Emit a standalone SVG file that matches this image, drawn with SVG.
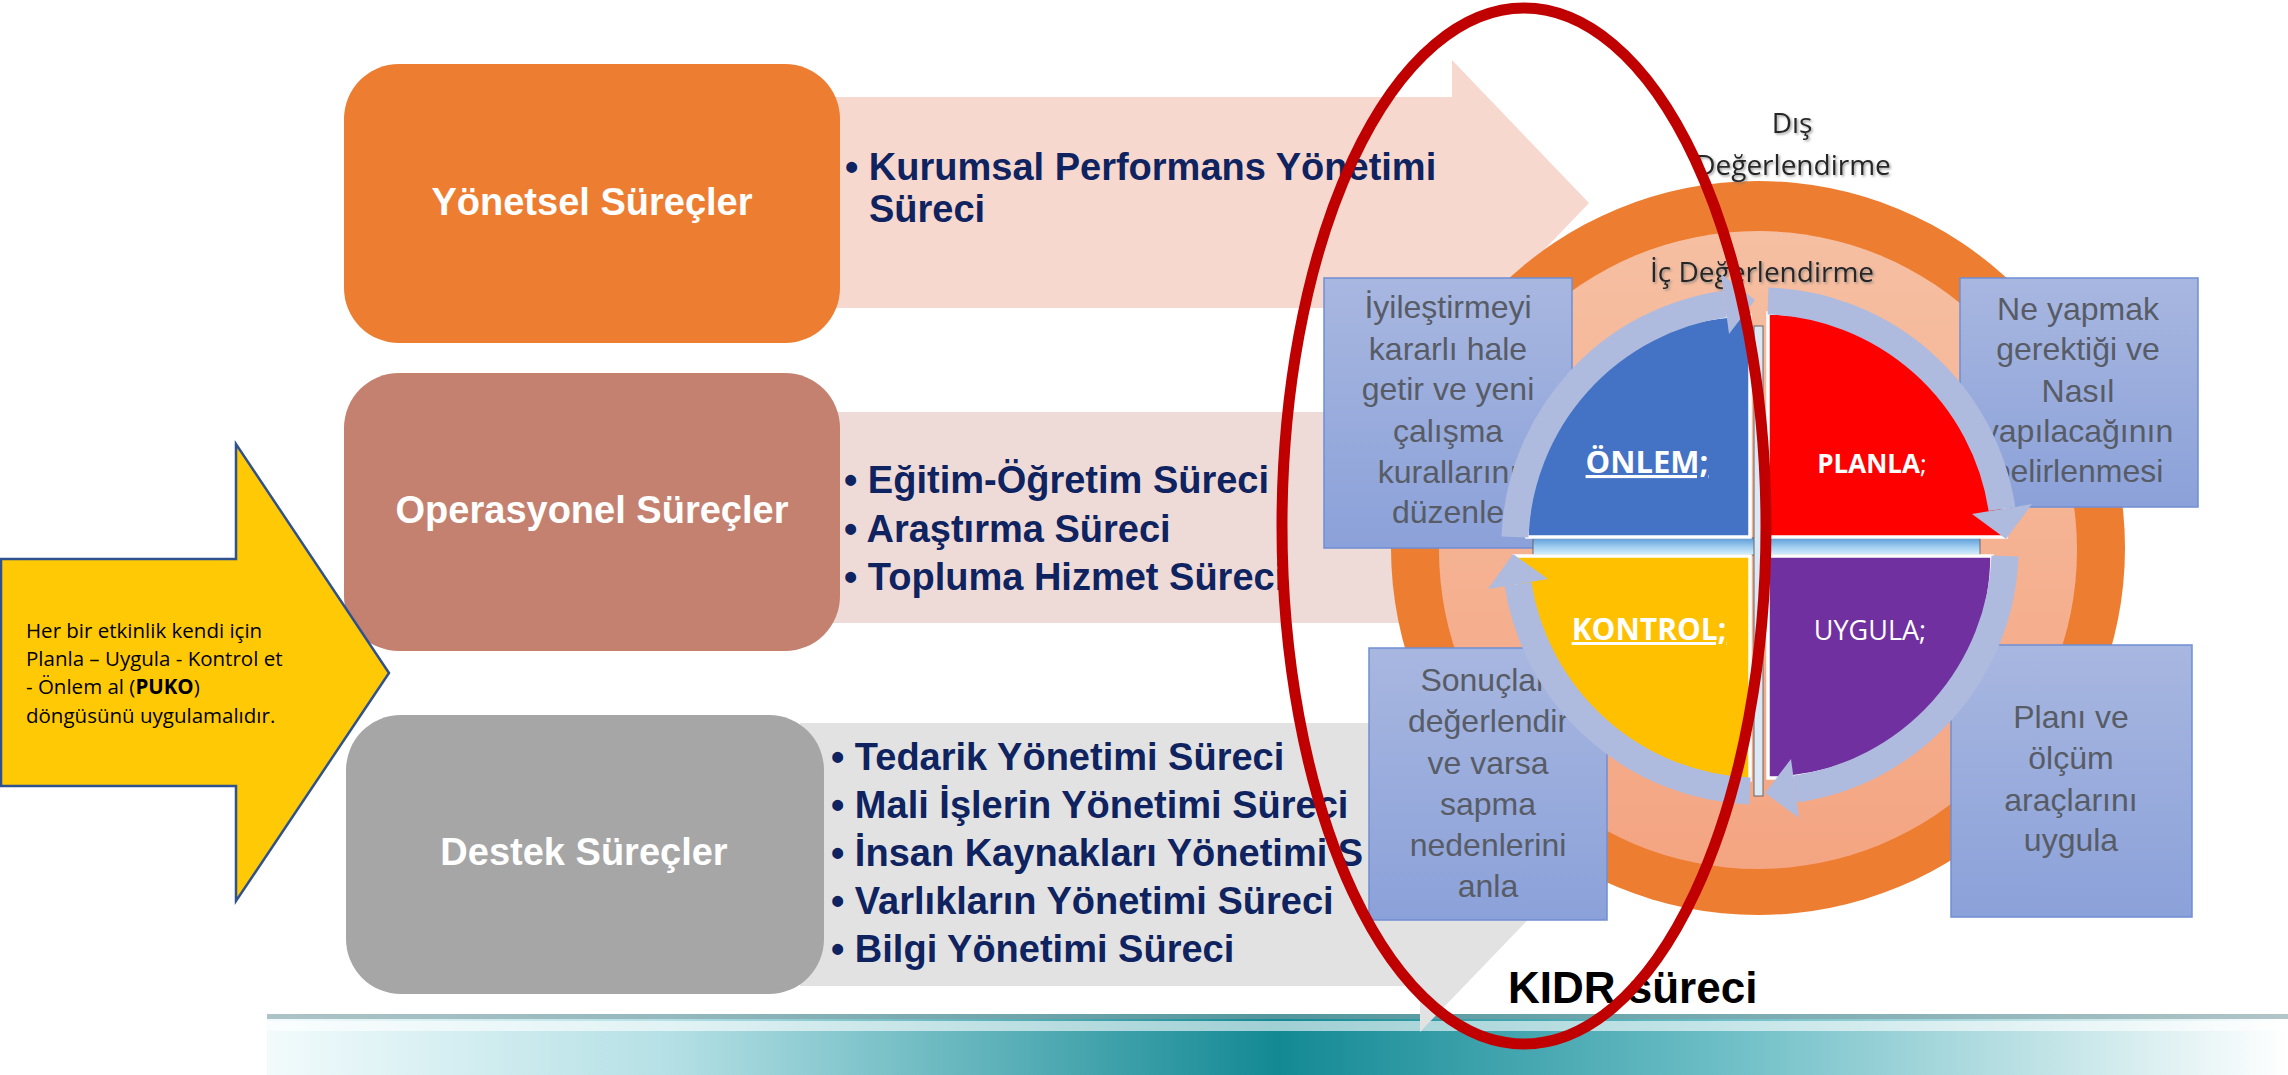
<svg xmlns="http://www.w3.org/2000/svg" width="2288" height="1075" viewBox="0 0 2288 1075">
<defs>
<style>
.pt{font-family:"Liberation Sans",Arial,sans-serif;font-weight:bold;font-size:38px;fill:#0E2360}
.bt{font-family:"Liberation Sans",Arial,sans-serif;font-weight:bold;font-size:38px;fill:#fff;text-anchor:middle}
.gx{font-family:"Liberation Sans",Arial,sans-serif;font-size:32px;fill:#575C66;text-anchor:middle}
.ql{font-family:"Open Sans",sans-serif;fill:#fff;text-anchor:middle}
.ev{font-family:"Open Sans",sans-serif;font-size:28px;fill:#262626;text-anchor:middle}
.yt{font-family:"Open Sans",sans-serif;font-size:20.5px;fill:#000}
.band{fill:none;stroke:#AEBADE;stroke-width:27}
.head{fill:#AEBADE}
.bbox{fill:url(#boxg);stroke:#6F8ED3;stroke-width:1.5}
.quad{stroke:#fff;stroke-width:3.5}
</style>
<linearGradient id="teal" x1="267" y1="0" x2="2288" y2="0" gradientUnits="userSpaceOnUse">
<stop offset="0" stop-color="#F2FBFC"/>
<stop offset="0.2" stop-color="#B4E0E5"/>
<stop offset="0.5" stop-color="#138994"/>
<stop offset="0.72" stop-color="#6DBEC6"/>
<stop offset="1" stop-color="#FFFFFF"/>
</linearGradient>
<linearGradient id="boxg" x1="0" y1="0" x2="0" y2="1">
<stop offset="0" stop-color="#A8B7E0"/>
<stop offset="1" stop-color="#8BA1D9"/>
</linearGradient>
<linearGradient id="inner" x1="0" y1="0" x2="0" y2="1">
<stop offset="0" stop-color="#F6BFA2"/>
<stop offset="1" stop-color="#F4A582"/>
</linearGradient>
<linearGradient id="gloss" x1="0" y1="0" x2="0" y2="1">
<stop offset="0" stop-color="#5E9BD6"/>
<stop offset="0.5" stop-color="#9CCBEF"/>
<stop offset="1" stop-color="#D8F0FC"/>
</linearGradient>
<filter id="sh" x="-10%" y="-30%" width="130%" height="170%">
<feDropShadow dx="1.5" dy="1.5" stdDeviation="1" flood-color="#777" flood-opacity="0.7"/>
</filter>
</defs>

<g id="bottom-band">
<rect x="267" y="1014" width="2021" height="61" fill="url(#teal)"/>
<rect x="267" y="1014" width="2021" height="5" fill="#7F9EA3" opacity="0.6"/>
<rect x="267" y="1021" width="2021" height="10" fill="#FFFFFF" opacity="0.6"/>
</g>

<g id="connectors">
<polygon id="arrow-yonetsel" points="800,97 1452,97 1452,60 1589,203 1452,346 1452,308 800,308" fill="#F6D8CE"/>
<polygon id="arrow-operasyonel" points="800,412 1420,412 1420,375 1560,517 1420,660 1420,623 800,623" fill="#EEDBD7"/>
<polygon id="arrow-destek" points="800,723 1420,723 1420,678 1590,855 1420,1032 1420,986 800,986" fill="#E2E2E2"/>
</g>

<g id="node-yonetsel">
<rect x="344" y="64" width="496" height="279" rx="55" fill="#ED7D31"/>
<text class="bt" x="592" y="215">Yönetsel Süreçler</text>
</g>
<g id="list-yonetsel">
<text class="pt" x="845" y="180">• Kurumsal Performans Yönetimi</text>
<text class="pt" x="869" y="222">Süreci</text>
</g>

<g id="node-operasyonel">
<rect x="344" y="373" width="496" height="278" rx="55" fill="#C48170"/>
<text class="bt" x="592" y="523">Operasyonel Süreçler</text>
</g>
<g id="list-operasyonel">
<text class="pt" x="844" y="493">• Eğitim-Öğretim Süreci</text>
<text class="pt" x="844" y="542">• Araştırma Süreci</text>
<text class="pt" x="844" y="590">• Topluma Hizmet Süreci</text>
</g>

<g id="node-destek">
<rect x="346" y="715" width="478" height="279" rx="55" fill="#A6A6A6"/>
<text class="bt" x="584" y="865">Destek Süreçler</text>
</g>
<g id="list-destek">
<text class="pt" x="831" y="770">• Tedarik Yönetimi Süreci</text>
<text class="pt" x="831" y="818">• Mali İşlerin Yönetimi Süreci</text>
<text class="pt" x="831" y="866">• İnsan Kaynakları Yönetimi S</text>
<text class="pt" x="831" y="914">• Varlıkların Yönetimi Süreci</text>
<text class="pt" x="831" y="962">• Bilgi Yönetimi Süreci</text>
</g>

<g id="node-dis-degerlendirme">
<circle cx="1758" cy="548" r="367" fill="#ED7D31"/>
<text class="ev" x="1792" y="133" filter="url(#sh)">Dış</text>
<text class="ev" x="1793" y="175" filter="url(#sh)">Değerlendirme</text>
</g>
<g id="node-ic-degerlendirme">
<circle cx="1758" cy="550" r="319" fill="url(#inner)"/>
<text class="ev" x="1762" y="282" font-size="29" filter="url(#sh)">İç Değerlendirme</text>
</g>

<g id="node-box-onlem">
<rect class="bbox" x="1324" y="278" width="248" height="270"/>
<text class="gx" x="1448" y="318">İyileştirmeyi</text>
<text class="gx" x="1448" y="360">kararlı hale</text>
<text class="gx" x="1448" y="400">getir ve yeni</text>
<text class="gx" x="1448" y="442">çalışma</text>
<text class="gx" x="1448" y="483">kurallarını</text>
<text class="gx" x="1448" y="523">düzenle</text>
</g>
<g id="node-box-planla">
<rect class="bbox" x="1960" y="278" width="238" height="229"/>
<text class="gx" x="2078" y="320">Ne yapmak</text>
<text class="gx" x="2078" y="360">gerektiği ve</text>
<text class="gx" x="2078" y="402">Nasıl</text>
<text class="gx" x="2078" y="442">yapılacağının</text>
<text class="gx" x="2078" y="482">belirlenmesi</text>
</g>
<g id="node-box-kontrol">
<rect class="bbox" x="1369" y="648" width="238" height="272"/>
<text class="gx" x="1488" y="691">Sonuçları</text>
<text class="gx" x="1488" y="732">değerlendir</text>
<text class="gx" x="1488" y="774">ve varsa</text>
<text class="gx" x="1488" y="815">sapma</text>
<text class="gx" x="1488" y="856">nedenlerini</text>
<text class="gx" x="1488" y="897">anla</text>
</g>
<g id="node-box-uygula">
<rect class="bbox" x="1951" y="645" width="241" height="272"/>
<text class="gx" x="2071" y="728">Planı ve</text>
<text class="gx" x="2071" y="769">ölçüm</text>
<text class="gx" x="2071" y="811">araçlarını</text>
<text class="gx" x="2071" y="851">uygula</text>
</g>

<g id="cycle-base">
<rect x="1533" y="538" width="447" height="17" fill="url(#gloss)" stroke="#555" stroke-width="0.8"/>
<rect x="1754" y="326" width="9" height="470" fill="#DCE9F5" stroke="#666" stroke-width="1"/>
</g>

<g id="node-onlem">
<path class="quad" d="M1750,537 L1527,537 A223,222 0 0 1 1750,315 Z" fill="#4472C4"/>
<text class="ql" x="1647" y="473" font-size="31" font-weight="bold" text-decoration="underline">ÖNLEM;</text>
</g>
<g id="node-planla">
<path class="quad" d="M1768,537 L1768,313 A238,224 0 0 1 2006,537 Z" fill="#FF0000"/>
<text class="ql" x="1872" y="473" font-size="26"><tspan font-weight="bold">PLANLA</tspan>;</text>
</g>
<g id="node-uygula">
<path class="quad" d="M1768,556 L1992,556 A224,222 0 0 1 1768,778 Z" fill="#7030A0"/>
<text class="ql" x="1870" y="640" font-size="27">UYGULA;</text>
</g>
<g id="node-kontrol">
<path class="quad" d="M1750,556 L1750,780 A236,224 0 0 1 1514,556 Z" fill="#FFC000"/>
<text class="ql" x="1649" y="640" font-size="30" font-weight="bold" text-decoration="underline">KONTROL;</text>
</g>

<g id="cycle-arrows">
<path class="band" d="M1515,537 A245,245 0 0 1 1725,304"/>
<path class="head" d="M1721,274 L1755,300 L1729,334 Z"/>
<path class="band" d="M1768,301 A245,245 0 0 1 2002,509"/>
<path class="head" d="M2032,504 L2006,539 L1972,514 Z"/>
<path class="band" d="M2005,556 A245,245 0 0 1 1795,789"/>
<path class="head" d="M1799,818 L1765,793 L1791,759 Z"/>
<path class="band" d="M1750,791 A245,245 0 0 1 1518,584"/>
<path class="head" d="M1488,589 L1513,554 L1548,579 Z"/>
</g>

<g id="node-puko">
<polygon points="1,559 236,559 236,444 389,673 236,901 236,786 1,786" fill="#FFCA05" stroke="#2F528F" stroke-width="2.5"/>
<text class="yt" x="26" y="638">Her bir etkinlik kendi için</text>
<text class="yt" x="26" y="666">Planla – Uygula - Kontrol et</text>
<text class="yt" x="26" y="694">- Önlem al (<tspan font-weight="bold">PUKO</tspan>)</text>
<text class="yt" x="26" y="723">döngüsünü uygulamalıdır.</text>
</g>

<g id="node-kidr">
<text x="1508" y="1003" font-family="Liberation Sans, Arial, sans-serif" font-weight="bold" font-size="44" fill="#000">KIDR süreci</text>
</g>

<g id="highlight-ellipse">
<ellipse cx="1524" cy="526" rx="242" ry="518" fill="none" stroke="#C00000" stroke-width="11"/>
</g>
</svg>
